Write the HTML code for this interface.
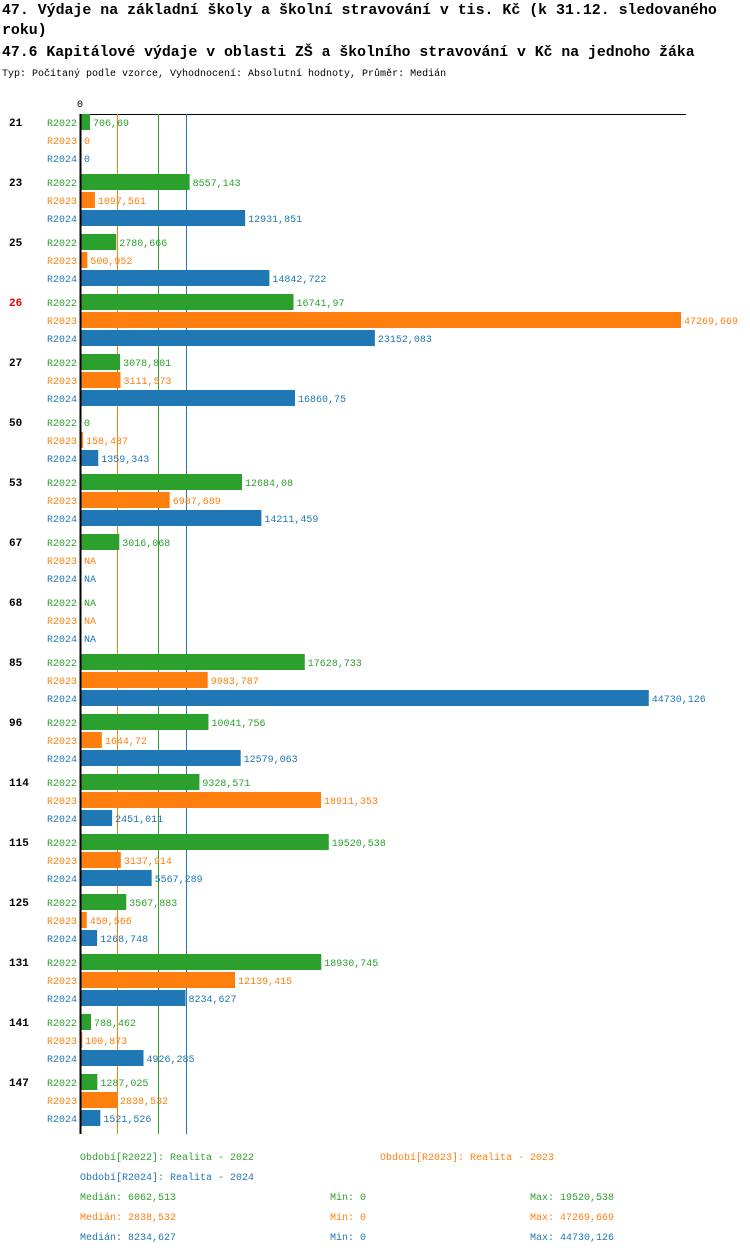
<!DOCTYPE html>
<html><head><meta charset="utf-8"><style>
body{margin:0;background:#fff;width:750px;height:1254px;overflow:hidden}
svg{display:block;font-family:"Liberation Mono",monospace}
</style></head><body>
<svg id="c" width="750" height="1254">
<text x="2" y="14" font-size="14.9" font-weight="bold">47. Výdaje na základní školy a školní stravování v tis. Kč (k 31.12. sledovaného</text>
<text x="2" y="34" font-size="14.9" font-weight="bold">roku)</text>
<text x="2" y="56" font-size="14.8" font-weight="bold">47.6 Kapitálové výdaje v oblasti ZŠ a školního stravování v Kč na jednoho žáka</text>
<text x="2" y="76" font-size="10">Typ: Počítaný podle vzorce, Vyhodnocení: Absolutní hodnoty, Průměr: Medián</text>
<text x="77" y="107" font-size="10">0</text>
<line x1="80" y1="114.5" x2="686" y2="114.5" stroke="#000" stroke-width="1"/>
<g id="g"></g>
</svg>
<script>
const categories=["21","23","25","26","27","50","53","67","68","85","96","114","115","125","131","141","147"];
const highlighted=["26"];
const seriesNames=["R2022","R2023","R2024"];
const colors=["#2ca02c","#ff7f0e","#1f77b4"];
const r2022=[706.69,8557.143,2780.666,16741.97,3078.801,0,12684.08,3016.068,null,17628.733,10041.756,9328.571,19520.538,3567.883,18930.745,788.462,1287.025];
const r2023=[0,1097.561,500.952,47269.669,3111.573,158.487,6987.689,null,null,9983.787,1644.72,18911.353,3137.914,450.566,12139.415,100.873,2838.532];
const r2024=[0,12931.851,14842.722,23152.083,16860.75,1359.343,14211.459,null,null,44730.126,12579.063,2451.011,5567.289,1268.748,8234.627,4926.285,1521.526];
const medians=[6062.513,2838.532,8234.627];
const mins=[0,0,0];
const maxs=[19520.538,47269.669,44730.126];
const legendLabels=["Období[R2022]: Realita - 2022","Období[R2023]: Realita - 2023","Období[R2024]: Realita - 2024"];
const series=[r2022,r2023,r2024];
const x0=81,xMax=47269.669,wMax=600;
const X=v=>x0+v/xMax*wMax;
const fmt=v=>v===null?"NA":String(v).replace(".",",");
const g=document.getElementById("g");
const NS="http://www.w3.org/2000/svg";
function mk(t,a,txt){const e=document.createElementNS(NS,t);for(const k in a)e.setAttribute(k,a[k]);if(txt!==undefined)e.textContent=txt;g.appendChild(e);return e;}
const top0=114,step=60,rowH=18;
const bottom=1134;
medians.forEach((m,j)=>{
  const xx=Math.round(X(m))+0.5;
  const l=mk("line",{x1:xx,x2:xx,y1:top0,y2:bottom,stroke:colors[j],"stroke-width":1});
  
  
});
categories.forEach((c,i)=>{
  const gy=top0+i*step;
  const cl=mk("text",{x:9,y:gy+12,"font-size":11,"font-weight":"bold",fill:highlighted.includes(c)?"#e00":"#000"},c);
  
  
  series.forEach((s,j)=>{
    const y=gy+j*rowH;
    const sl=mk("text",{x:47,y:y+12,"font-size":10,fill:colors[j]},seriesNames[j]);
    
    
    const v=s[i];
    let end=x0;
    if(v!==null&&v>0){
      const w=X(v)-x0;
      const b=mk("rect",{x:x0,y:y,width:w,height:16,fill:colors[j]});
      
      
      end=X(v);
    }
    const vl=mk("text",{x:end+3,y:y+12,"font-size":10,fill:colors[j]},fmt(v));
    
    
  });
});
const ax=mk("line",{x1:80.5,x2:80.5,y1:top0,y2:bottom,stroke:"#000","stroke-width":2});


const legPos=[[80,1160],[380,1160],[80,1180]];
legendLabels.forEach((t,j)=>{
  const e=mk("text",{x:legPos[j][0],y:legPos[j][1],"font-size":10,fill:colors[j]},t);
  
  
});
medians.forEach((m,j)=>{
  const y=1200+j*20;
  const a=mk("text",{x:80,y:y,"font-size":10,fill:colors[j]},"Medián: "+fmt(m));
  
  
  const b=mk("text",{x:330,y:y,"font-size":10,fill:colors[j]},"Min: "+fmt(mins[j]));
  
  
  const d=mk("text",{x:530,y:y,"font-size":10,fill:colors[j]},"Max: "+fmt(maxs[j]));
  
  
});
</script>
</body></html>
